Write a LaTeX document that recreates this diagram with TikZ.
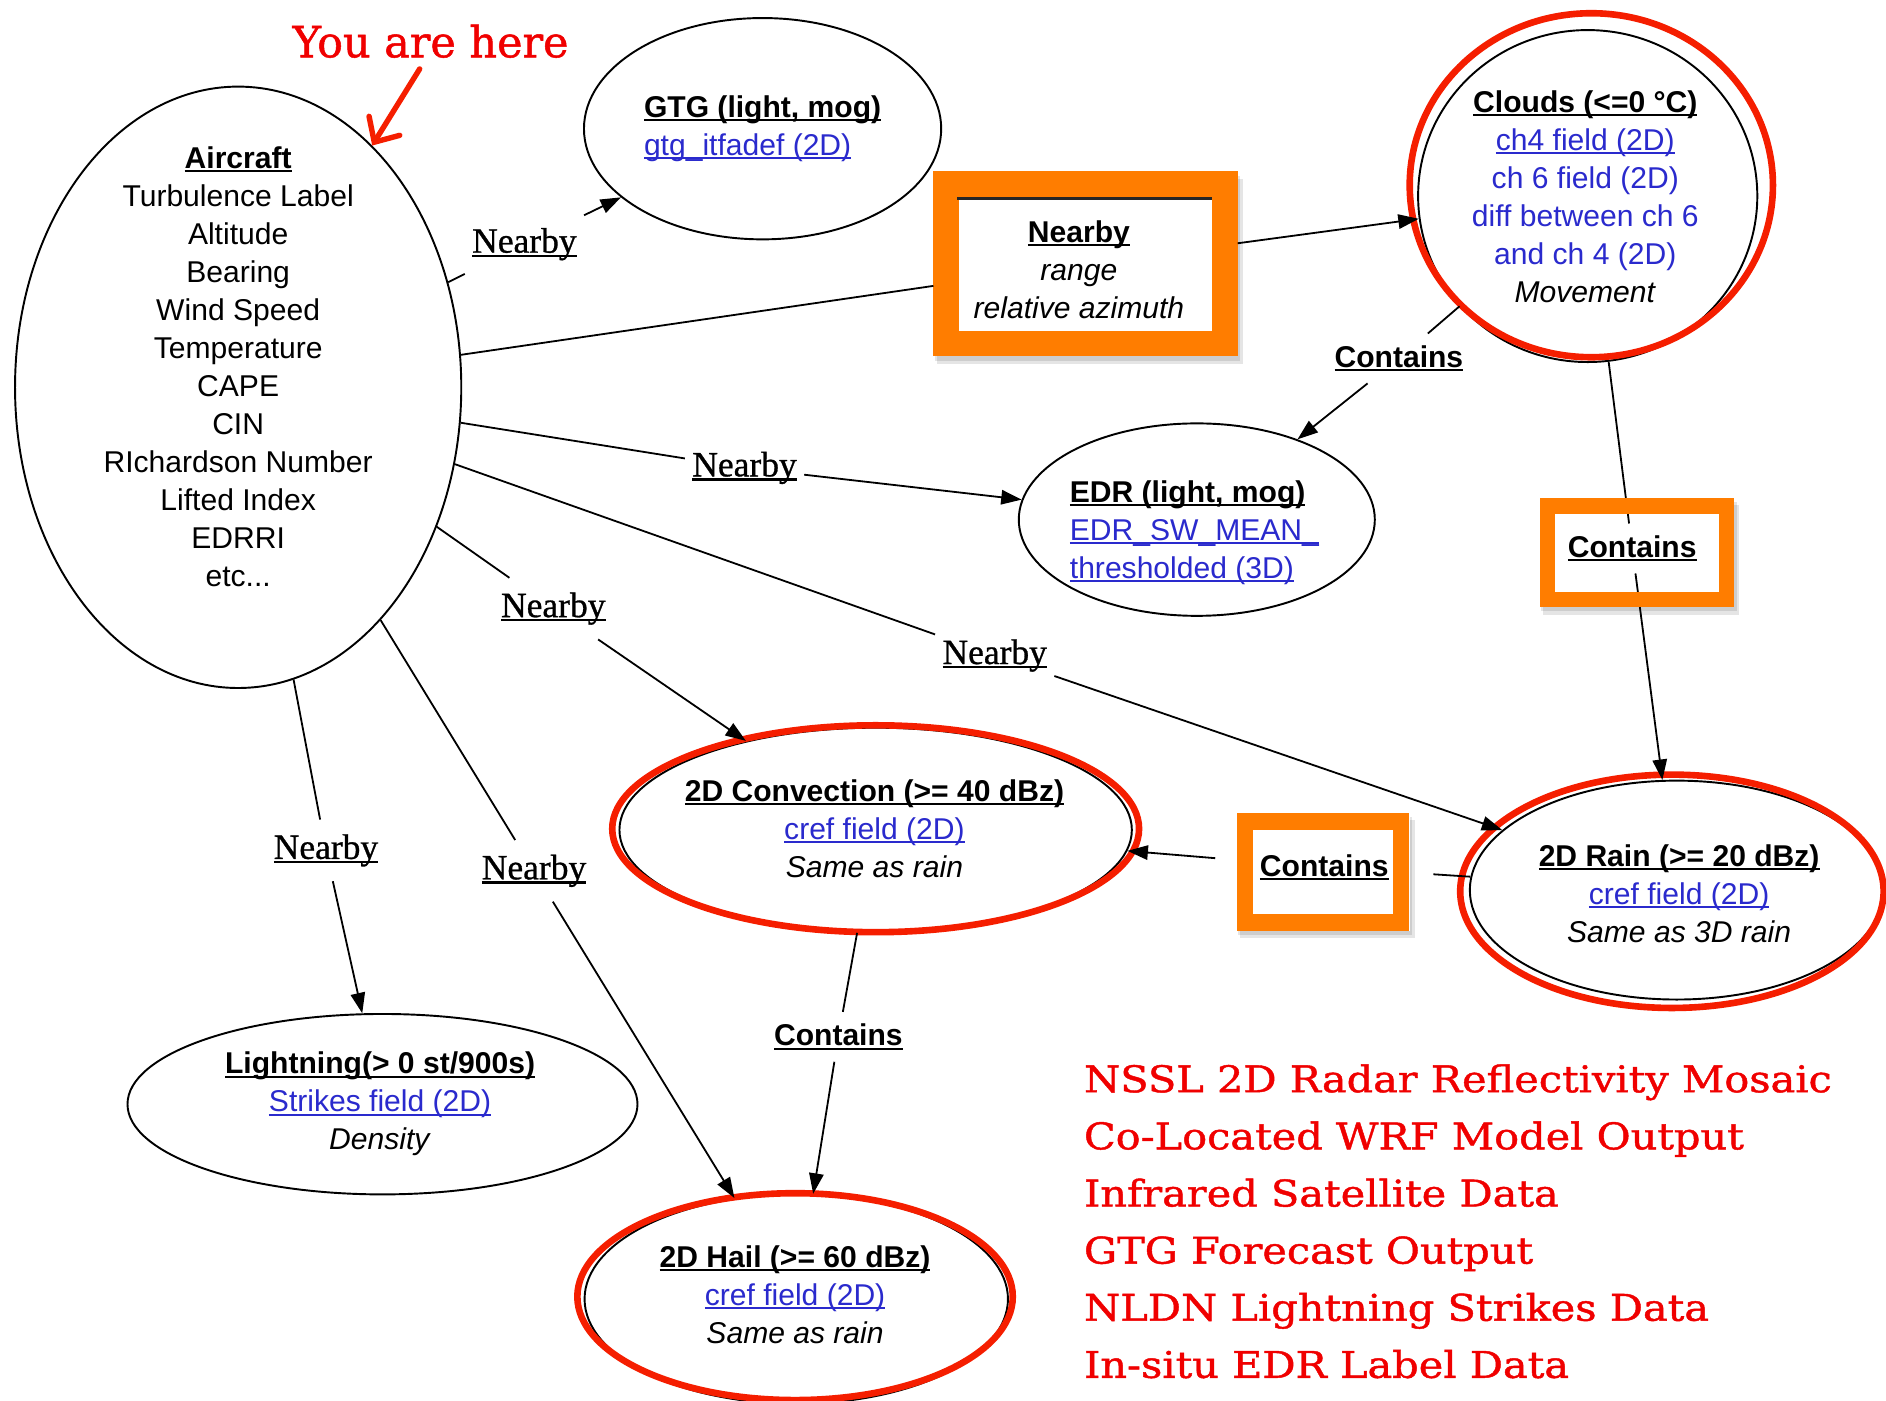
\documentclass[tikz,border=0pt]{standalone}
\usepackage{fontspec}
\setmainfont{Liberation Sans}
\newfontfamily\timesf[FakeBold=0.8]{Liberation Serif}
\newfontfamily\slabf[FakeStretch=1.13,FakeBold=1.2]{DejaVu Serif}
\newfontfamily\slabyah[FakeBold=1.2]{DejaVu Serif}
\usetikzlibrary{arrows.meta,shapes.geometric,calc}
\definecolor{linkblue}{RGB}{42,42,205}
\definecolor{annred}{RGB}{245,30,0}
\definecolor{txtred}{RGB}{240,0,0}
\definecolor{boxorange}{RGB}{255,125,0}
\newcommand{\uln}[1]{\leavevmode\setbox0=\hbox{#1}\rlap{\rule[-0.12em]{\wd0}{0.065em}}\box0}
\newcommand{\lnk}[1]{\textcolor{linkblue}{#1}}
\tikzset{
  diag/.style={font=\fontsize{25}{31.6}\selectfont, align=center, inner sep=0pt},
  ell/.style={draw, ellipse, line width=1.6pt, inner sep=0pt},
  redell/.style={draw=annred, ellipse, line width=5.5pt, inner sep=0pt},
  conn/.style={line width=1.5pt},
  arr/.style={line width=1.5pt, -{Triangle[length=17pt,width=12pt]}},
  nearlbl/.style={font=\timesf\fontsize{29.5}{32}\selectfont, inner xsep=6pt, inner ysep=12pt},
  contlbl/.style={font=\bfseries\fontsize{25}{30}\selectfont, inner xsep=6pt, inner ysep=10pt},
  oframe/.style={draw=boxorange, inner sep=0pt},
  shadow/.style={fill=black, opacity=0.10},
  redtxt/.style={font=\slabf\fontsize{30.5}{40}\selectfont, text=txtred, anchor=base west, inner sep=0pt},
}
\begin{document}
\begin{tikzpicture}[x=1pt,y=-1pt]
\fill[white] (0,0) rectangle (1568,1164);
\useasboundingbox (0,0) rectangle (1568,1164);

% ---------- ellipses ----------
\node[ell, minimum width=371pt, minimum height=500pt] (ac) at (198,322) {};
\node[diag] (acT) at (198,305) {\uln{\textbf{Aircraft}}\\ Turbulence Label\\ Altitude\\ Bearing\\ Wind Speed\\ Temperature\\ CAPE\\ CIN\\ RIchardson Number\\ Lifted Index\\ EDRRI\\ etc...};

\node[ell, minimum width=297pt, minimum height=184pt] (gtg) at (634,107) {};
\node[diag, align=left] (gtgT) at (634,107) {\uln{\textbf{GTG (light, mog)}}\\ \lnk{\uln{gtg\_itfadef (2D)}}};

\node[ell, minimum width=296pt, minimum height=160pt] (edr) at (995,432) {};
\node[diag, align=left] (edrT) at (993,442.5) {\uln{\textbf{EDR (light, mog)}}\\ \lnk{\uln{EDR\_SW\_MEAN\_}}\\ \lnk{\uln{thresholded (3D)}}};

\node[ell, minimum width=282pt, minimum height=276pt] (clouds) at (1320,163) {};
\node[redell, minimum width=302pt, minimum height=286pt] (cloudsR) at (1323,154) {};
\node[diag] (cloudsT) at (1318,163.5) {\uln{\textbf{Clouds (<=0 °C)}}\\ \lnk{\uln{ch4 field (2D)}}\\ \lnk{ch 6 field (2D)}\\ \lnk{diff between ch 6}\\ \lnk{and ch 4 (2D)}\\ \textit{Movement}};

\node[ell, minimum width=344pt, minimum height=182pt] (rain) at (1394,740) {};
\node[redell, minimum width=352pt, minimum height=194pt] (rainR) at (1390,741) {};
\node[diag] (rainT) at (1396,743) {\uln{\textbf{2D Rain (>= 20 dBz)}}\\ \lnk{\uln{cref field (2D)}}\\ \textit{Same as 3D rain}};

\node[ell, minimum width=426pt, minimum height=170pt] (conv) at (728,690) {};
\node[redell, minimum width=438pt, minimum height=172pt] (convR) at (728,689) {};
\node[diag] (convT) at (727,689) {\uln{\textbf{2D Convection (>= 40 dBz)}}\\ \lnk{\uln{cref field (2D)}}\\ \textit{Same as rain}};

\node[ell, minimum width=352pt, minimum height=174pt] (hail) at (662,1080) {};
\node[redell, minimum width=362pt, minimum height=172pt] (hailR) at (661,1078) {};
\node[diag] (hailT) at (661,1076.5) {\uln{\textbf{2D Hail (>= 60 dBz)}}\\ \lnk{\uln{cref field (2D)}}\\ \textit{Same as rain}};

\node[ell, minimum width=424pt, minimum height=150pt] (ltn) at (318,918) {};
\node[diag] (ltnT) at (316,918) {\uln{\textbf{Lightning(> 0 st/900s)}}\\ \lnk{\uln{Strikes field (2D)}}\\ \textit{Density}};

% ---------- Nearby box (range / relative azimuth) ----------
\fill[shadow] (779,149) rectangle (1033,303);
\fill[shadow] (777,146) rectangle (1031,300);
\node[oframe, line width=21pt, fill=white, minimum width=232pt, minimum height=132.5pt] (nbox) at (902.5,219.25) {};
\draw[line width=2pt, black!85] (796,165) -- (1008,165);
\node[diag] (nboxT) at (897,224) {\uln{\textbf{Nearby}}\\ \textit{range}\\ \textit{relative azimuth}};

% ---------- shadows and white interiors of the Contains frames ----------
\fill[shadow] (1283,420) rectangle (1446,511);
\fill[shadow] (1281,417) rectangle (1444,508);
\fill[white] (1280,414) rectangle (1442,505);
\fill[shadow] (1031,682) rectangle (1176,780);
\fill[shadow] (1029,679) rectangle (1174,777);
\fill[white] (1028,676) rectangle (1172,774);

% ---------- edge labels ----------
\node[nearlbl] (lGTG) at (436,203) {\uln{Nearby}};
\node[nearlbl] (lEDR) at (619,389) {\uln{Nearby}};
\node[nearlbl] (lCONV) at (460,506) {\uln{Nearby}};
\node[nearlbl] (lLTN) at (271,707) {\uln{Nearby}};
\node[nearlbl] (lHAIL) at (444,724) {\uln{Nearby}};
\node[nearlbl] (lRAIN) at (827,545) {\uln{Nearby}};
\node[contlbl] (lC1) at (1163,298) {\uln{Contains}};
\node[contlbl] (lC2) at (1357,456) {\uln{Contains}};
\node[contlbl, inner xsep=37pt] (lC3) at (1101,721) {\uln{Contains}};
\node[contlbl] (lC4) at (697,862) {\uln{Contains}};

% ---------- edges ----------
\draw[conn] (ac) -- (lGTG);   \draw[arr] (lGTG) -- (gtg);
\draw[conn] (ac) -- (lEDR);   \draw[arr] (lEDR) -- (edr);
\draw[conn] (ac) -- (lCONV);  \draw[arr] (lCONV) -- (conv);
\draw[conn] (ac) -- (lLTN);   \draw[arr] (lLTN) -- (ltn);
\draw[conn] (ac) -- (lHAIL);  \draw[arr] (lHAIL) -- (hail);
\draw[conn] (ac) -- (lRAIN);  \draw[arr] (lRAIN) -- (rain);
\draw[conn] (ac) -- (nbox);   \draw[arr] (nbox) -- (clouds);
\draw[conn] (clouds) -- (lC1); \draw[arr] (lC1) -- (edr);
\draw[conn] (clouds) -- (lC2); \draw[arr] (lC2) -- (rain);
\draw[conn] (rain) -- (lC3);   \draw[arr] (lC3) -- (conv);
\draw[conn] (conv) -- (lC4);   \draw[arr] (lC4) -- (hail);

% ---------- orange frames on Contains labels ----------
\node[oframe, line width=13pt, minimum width=149pt, minimum height=78pt] (cbox1) at (1361,459.5) {};
\node[oframe, line width=13.5pt, minimum width=130pt, minimum height=84pt] (cbox2) at (1100,725) {};

% ---------- red annotations ----------
\node[redtxt, font=\slabyah\fontsize{35.7}{40}\selectfont] (yah) at (243,47.6) {You are here};
\draw[annred, line width=4.5pt, line cap=round, -{Straight Barb[length=16pt,width=30pt,line cap=round]}] ($(yah.south)+(-9,9)$) -- (ac.61);

\node[redtxt] (src1) at (901,908) {NSSL 2D Radar Reflectivity Mosaic};
\node[redtxt] (src2) at (901,955.5) {Co-Located WRF Model Output};
\node[redtxt] (src3) at (901,1003) {Infrared Satellite Data};
\node[redtxt] (src4) at (901,1050.5) {GTG Forecast Output};
\node[redtxt] (src5) at (901,1098) {NLDN Lightning Strikes Data};
\node[redtxt] (src6) at (901,1145.5) {In-situ EDR Label Data};
\end{tikzpicture}
\end{document}
